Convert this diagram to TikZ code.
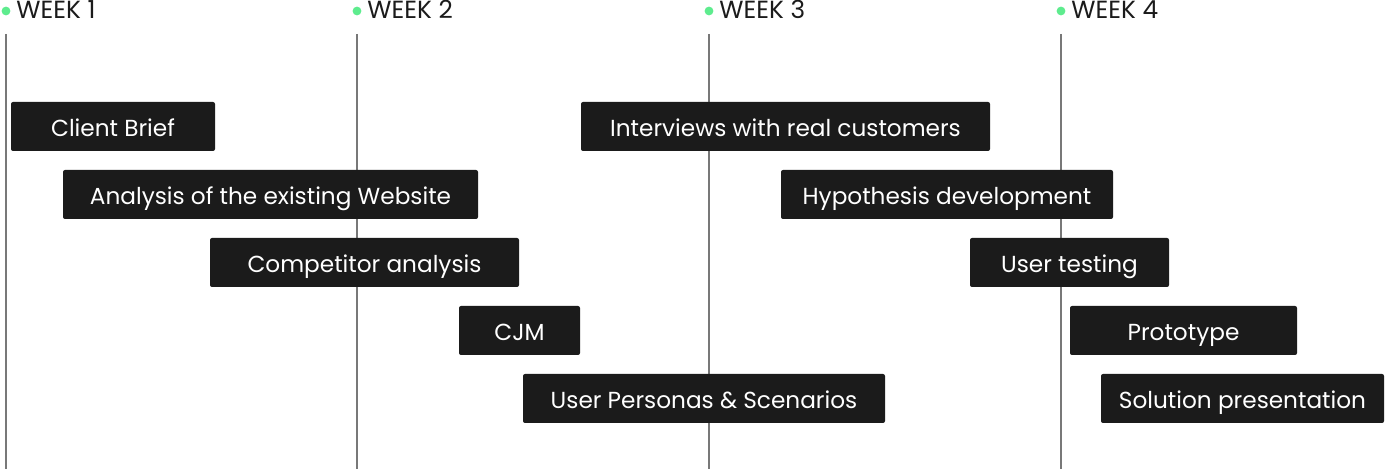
\documentclass[tikz,border=0pt]{standalone}
\usepackage{fontspec}
\setmainfont{Poppins}
\usetikzlibrary{positioning}
\definecolor{barblack}{RGB}{27,27,27}
\definecolor{weekgreen}{RGB}{94,236,142}
\definecolor{linegray}{RGB}{120,120,120}

\begin{document}
\begin{tikzpicture}[x=0.5pt, y=-0.5pt,
  bar/.style = {shape=rectangle, rounded corners=1pt, fill=barblack,
    text=white, font=\fontsize{11.6}{13}\selectfont,
    text height=10.5pt, text depth=0pt,
    minimum height=24.5pt, minimum width=#1*0.5pt, inner sep=0pt},
  week/.style = {anchor=base west, inner sep=0pt, text=barblack,
    font=\fontsize{12.4}{14}\selectfont},
  weekline/.style = {draw=linegray, line width=0.55pt}]
  \useasboundingbox (0,0) rectangle (1385,469);

  % weeks
  \foreach \n/\x in {1/6, 2/357, 3/709, 4/1061} {
    \fill[weekgreen] (\x,11) circle (2.2pt);
    \node[week] (week\n) at (\x+10,18.5) {WEEK \n};
    \coordinate (top\n) at (\x,34);
    \coordinate (bot\n) at (\x,469);
    \draw[weekline] (top\n) -- (bot\n);
  }

  % tasks
  \node[bar=204] (brief)      at (113,126.5) {Client Brief};
  \node[bar=415] (website)    at (270.5,194.5) {Analysis of the existing Website};
  \node[bar=309] (competitor) at (364.5,262.5) {Competitor analysis};
  \node[bar=121] (cjm)        at (519.5,330.5) {CJM};
  \node[bar=362] (personas)   at (704,398.5) {User Personas \& Scenarios};
  \node[bar=409] (interviews) at (785.5,126.5) {Interviews with real customers};
  \node[bar=332] (hypothesis) at (947,194.5) {Hypothesis development};
  \node[bar=199] (testing)    at (1069.5,262.5) {User testing};
  \node[bar=227] (prototype)  at (1183.5,330.5) {Prototype};
  \node[bar=283] (solution)   at (1242.5,398.5) {Solution presentation};
\end{tikzpicture}
\end{document}
